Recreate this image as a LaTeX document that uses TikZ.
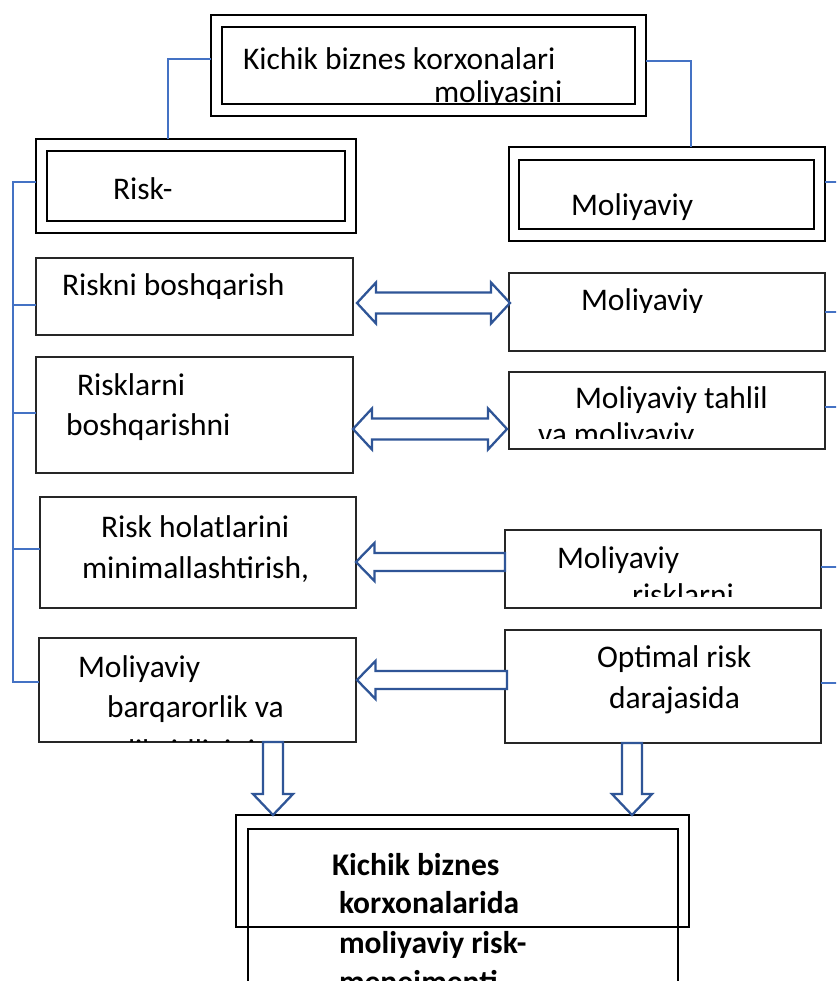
\documentclass[tikz,border=0pt]{standalone}
\usepackage{fontspec}
\setmainfont{Carlito}
\usetikzlibrary{calc}
\definecolor{linkblue}{HTML}{4472C4}
\definecolor{arrblue}{HTML}{2F5597}
\definecolor{boxgray}{HTML}{262626}
\tikzset{
  basebox/.style={anchor=north west, inner sep=0pt, outer sep=0pt},
  plainbox/.style={basebox, draw=boxgray, line width=1.4pt},
  thickbox/.style={basebox, draw=black, line width=2.8pt},
  txt/.style={anchor=base west, inner sep=0pt, outer sep=0pt, font=\fontsize{31.5}{38}\selectfont},
  btxt/.style={anchor=base west, inner sep=0pt, outer sep=0pt, font=\fontsize{31.5}{38}\selectfont\bfseries},
  link/.style={draw=linkblue, line width=1.2pt},
  blockarr/.style={draw=arrblue, line width=2.3pt, fill=white, line join=miter},
}
% double block arrow between two points on one horizontal line
\newcommand\dblarrowblk[2]{%
  \draw[blockarr] let \p1=(#1), \p2=(#2) in
    (\x1,\y1) -- (\x1+19pt,\y1+20.5pt) -- (\x1+19pt,\y1+10.5pt) -- (\x2-19pt,\y1+10.5pt)
    -- (\x2-19pt,\y1+20.5pt) -- (\x2,\y1) -- (\x2-19pt,\y1-20.5pt) -- (\x2-19pt,\y1-10.5pt)
    -- (\x1+19pt,\y1-10.5pt) -- (\x1+19pt,\y1-20.5pt) -- cycle;}
% left-pointing block arrow: #1 tail, #2 tip
\newcommand\leftarrowblk[2]{%
  \draw[blockarr] let \p1=(#1), \p2=(#2) in
    (\x2,\y2) -- (\x2+18.5pt,\y2+19pt) -- (\x2+18.5pt,\y2+9pt) -- (\x1,\y2+9pt)
    -- (\x1,\y2-9pt) -- (\x2+18.5pt,\y2-9pt) -- (\x2+18.5pt,\y2-19pt) -- cycle;}
% down-pointing block arrow: #1 tail, #2 tip
\newcommand\downarrowblk[2]{%
  \draw[blockarr] let \p1=(#1), \p2=(#2) in
    (\x2,\y2) -- (\x2-20pt,\y2+21pt) -- (\x2-10pt,\y2+21pt) -- (\x2-10pt,\y1)
    -- (\x2+10pt,\y1) -- (\x2+10pt,\y2+21pt) -- (\x2+20pt,\y2+21pt) -- cycle;}
\begin{document}
\begin{tikzpicture}[x=1pt,y=-1pt]
\useasboundingbox (0,0) rectangle (836,981);
\clip (0,0) rectangle (836,981);
\fill[white] (0,0) rectangle (836,981);

% ---------- boxes ----------
\node[thickbox, minimum width=435pt, minimum height=101pt] (T)  at (211,15) {};
\node[thickbox, minimum width=413pt, minimum height=77pt]  (Ti) at (222,27) {};
\node[thickbox, minimum width=320pt, minimum height=94pt]  (R)  at (36,139) {};
\node[thickbox, minimum width=298pt, minimum height=70pt]  (Ri) at (47,151) {};
\node[thickbox, minimum width=316pt, minimum height=94pt]  (M)  at (509,147) {};
\node[thickbox, minimum width=295pt, minimum height=69pt]  (Mi) at (519,160) {};
\node[plainbox, minimum width=317pt, minimum height=77pt]  (A)  at (36,258) {};
\node[plainbox, minimum width=316pt, minimum height=78pt]  (B)  at (509,273) {};
\node[plainbox, minimum width=317pt, minimum height=116pt] (C2) at (36,357) {};
\node[plainbox, minimum width=316pt, minimum height=77pt]  (C)  at (509,372) {};
\node[plainbox, minimum width=316pt, minimum height=111pt] (D3) at (40,497) {};
\node[plainbox, minimum width=316pt, minimum height=78pt]  (D)  at (505,530) {};
\node[plainbox, minimum width=317pt, minimum height=104pt] (E4) at (39,638) {};
\node[plainbox, minimum width=316pt, minimum height=113pt] (E)  at (505,630) {};
\node[thickbox, minimum width=453pt, minimum height=112pt] (F)  at (236,815) {};
\node[thickbox, minimum width=430pt, minimum height=200pt] (Fi) at (248,829) {};

% ---------- texts ----------
\node[txt] (tT1) at (243,70) {Kichik biznes korxonalari};
\begin{scope}
  \clip (222,27) rectangle (635,104.5);
  \node[txt] (tT2) at (434,103) {moliyasini};
\end{scope}
\node[txt] (tR1) at (113,200) {Risk-};
\node[txt] (tM1) at (571,216) {Moliyaviy};
\begin{scope}
  \clip (36,258) rectangle (353,298);
  \node[txt] (tA1) at (62,295) {Riskni boshqarish};
\end{scope}
\begin{scope}
  \clip (509,273) rectangle (825,312.5);
  \node[txt] (tB1) at (581,310) {Moliyaviy};
\end{scope}
\node[txt] (tC21) at (77,395) {Risklarni};
\node[txt] (tC22) at (66,435) {boshqarishni};
\node[txt] (tC1) at (575,408) {Moliyaviy tahlil};
\begin{scope}
  \clip (509,372) rectangle (825,438);
  \node[txt] (tC2) at (538,444) {va moliyaviy};
\end{scope}
\node[txt] (tD31) at (101,537) {Risk holatlarini};
\node[txt] (tD32) at (82,578) {minimallashtirish,};
\node[txt] (tD1) at (557,568) {Moliyaviy};
\begin{scope}
  \clip (505,530) rectangle (821,596);
  \node[txt] (tD2) at (632,605) {risklarni};
\end{scope}
\node[txt] (tE41) at (78,677) {Moliyaviy};
\node[txt] (tE42) at (107,717) {barqarorlik va};
\begin{scope}
  \clip (39,638) rectangle (356,741.5);
  \node[txt] (tE43) at (128,761) {likvidligini};
\end{scope}
\node[txt] (tE1) at (597,667) {Optimal risk};
\node[txt] (tE2) at (609,708) {darajasida};
\node[btxt] (tF1) at (332,875) {Kichik biznes};
\node[btxt] (tF2) at (339,913) {korxonalarida};
\node[btxt] (tF3) at (339,953) {moliyaviy risk-};
\node[btxt] (tF4) at (339,992) {menejmenti};

% ---------- thin blue connectors ----------
\draw[link] (T.west |- 0,59) -| (R.north -| 168,0);
\draw[link] (T.east |- 0,61) -| (M.north -| 691,0);
\draw[link] (R.west |- 0,182) -- (13,182) -- (13,682) -- (E4.west |- 0,682);
\draw[link] (A.west |- 0,305) -- (13,305);
\draw[link] (C2.west |- 0,413) -- (13,413);
\draw[link] (D3.west |- 0,549) -- (13,549);
\coordinate (r1) at (840,182);
\coordinate (r2) at (840,312);
\coordinate (r3) at (840,407);
\coordinate (r4) at (840,567);
\coordinate (r5) at (840,683);
\draw[link] (M.east |- r1) -- (r1);
\draw[link] (B.east |- r2) -- (r2);
\draw[link] (C.east |- r3) -- (r3);
\draw[link] (D.east |- r4) -- (r4);
\draw[link] (E.east |- r5) -- (r5);

% ---------- block arrows ----------
\coordinate (d1a) at (357,303);
\coordinate (d1b) at (510,303);
\dblarrowblk{d1a}{d1b}
\coordinate (d2a) at (353,429);
\coordinate (d2b) at (507,429);
\dblarrowblk{d2a}{d2b}
\coordinate (l3t) at (D.west |- 0,562);
\coordinate (l3h) at (356,562);
\leftarrowblk{l3t}{l3h}
\coordinate (l4t) at (507,680);
\coordinate (l4h) at (357,680);
\leftarrowblk{l4t}{l4h}
\coordinate (v1t) at (E4.south -| 273,0);
\coordinate (v1h) at (F.north -| 273,0);
\downarrowblk{v1t}{v1h}
\coordinate (v2t) at (E.south -| 632,0);
\coordinate (v2h) at (F.north -| 632,0);
\downarrowblk{v2t}{v2h}
\end{tikzpicture}
\end{document}
